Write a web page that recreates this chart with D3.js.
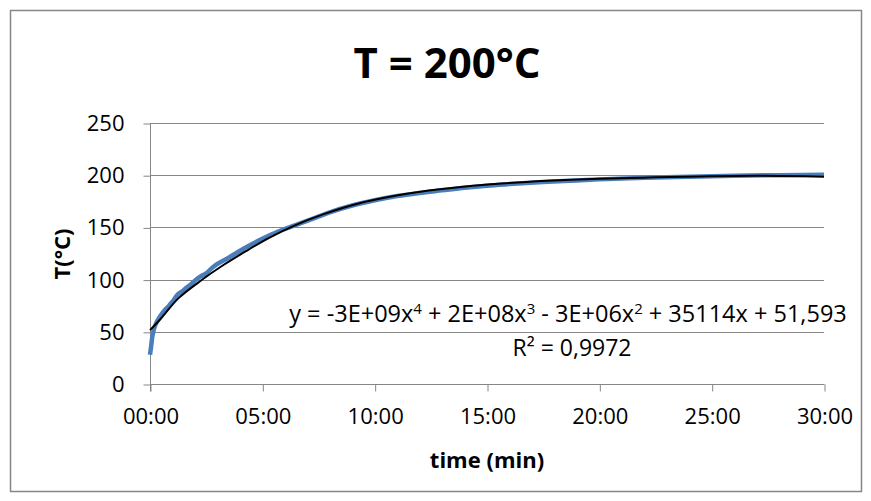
<!DOCTYPE html>
<html><head><meta charset="utf-8">
<script src="https://cdn.jsdelivr.net/npm/d3@7"></script>
<style>body{margin:0;background:#fff} text{font-family:"Open Sans",sans-serif;fill:#000}</style>
</head><body>
<svg id="c" width="871" height="501"></svg>
<script>
// Measured temperature (time in minutes, °C)
const timeMin = [0,0.05,0.10,0.17,0.25,0.40,0.55,0.67,0.85,1.00,1.25,1.45,1.6,1.8,2.0,2.25,2.5,2.75,3.0,3.5,4.2,5.0,5.7,6.45,7.2,8.0,9.0,10.0,11.0,12.0,13.0,14.0,15.0,16.0,17.5,19.0,20.0,22.0,24.5,26.0,28.0,30.0];
const tempMeasured = [28,36,45,52,57,63,68,71,75,79,86,89,92,95,99,103,106,111,115,121,130,139,146,152,158,164.5,171,176,180,183,185.5,188,190,191.5,193.5,195,196,197.5,198.8,199.5,200,200.5];
// Polynomial trendline
const trendTime = [0,0.5,1.26,2.3,3.2,4.23,5.3,6.45,7.7,9.2,11.1,12.9,16.0,20.0,24.5,27.0,30.0];
const trendTemp = [51.6,63,82,99.6,113,126.7,140,152,162.5,172.5,181,186.5,192.5,196.5,198.8,199.4,198.6];
const xTicks = [0,5,10,15,20,25,30];
const xTickLabels = ["00:00","05:00","10:00","15:00","20:00","25:00","30:00"];
const yTicks = [0,50,100,150,200,250];
const title = "T = 200°C";
const xTitle = "time (min)";
const yTitle = "T(°C)";

const svg = d3.select("#c");
const grid = "#868686";
svg.append("rect").attr("x",10.5).attr("y",10.5).attr("width",851).attr("height",481)
  .attr("fill","#fff").attr("stroke",grid).attr("stroke-width",1.5);

const x = d3.scaleLinear().domain([0,30]).range([150,824]);
const y = d3.scaleLinear().domain([0,250]).range([384,123]);

// gridlines
svg.append("g").selectAll("line").data(yTicks).join("line")
  .attr("x1",x(0)).attr("x2",x(30)).attr("y1",d=>Math.round(y(d))+0.5).attr("y2",d=>Math.round(y(d))+0.5)
  .attr("stroke",grid).attr("stroke-width",1);

const yAxis = svg.append("g").attr("transform",`translate(${x(0)+0.5},0.5)`)
  .call(d3.axisLeft(y).tickValues(yTicks).tickSize(7).tickPadding(19).tickFormat(d3.format("d")));
const xAxis = svg.append("g").attr("transform",`translate(0.5,${Math.round(y(0))+0.5})`)
  .call(d3.axisBottom(x).tickValues(xTicks).tickSize(7).tickPadding(17).tickFormat((d,i)=>xTickLabels[i]));
[yAxis,xAxis].forEach(a=>{
  a.select(".domain").attr("stroke",grid);
  a.selectAll(".tick line").attr("stroke",grid);
  a.selectAll("text").style("font-size","22px").attr("fill","#000");
});
yAxis.select(".domain").attr("d",`M0,${y(250)}V${y(0)+7}`);
xAxis.select(".domain").attr("d",`M${x(0)},0H${x(30)}`);

const line = d3.line().x(d=>x(d[0])).y(d=>y(d[1])).curve(d3.curveMonotoneX);
svg.append("path").datum(d3.zip(timeMin,tempMeasured)).attr("d",line)
  .attr("fill","none").attr("stroke","#4A7EBB").attr("stroke-width",4.5);
svg.append("path").datum(d3.zip(trendTime,trendTemp)).attr("d",line.curve(d3.curveCatmullRom))
  .attr("fill","none").attr("stroke","#000").attr("stroke-width",2);

// titles
svg.append("text").attr("x",447).attr("y",78).attr("text-anchor","middle")
  .style("font-size","42px").style("font-weight","bold").text(title);
svg.append("text").attr("x",487).attr("y",468).attr("text-anchor","middle")
  .style("font-size","22px").style("font-weight","bold").text(xTitle);
svg.append("text").attr("transform","translate(70,254) rotate(-90)").attr("text-anchor","middle")
  .style("font-size","22px").style("font-weight","bold").text(yTitle);

// trendline label
const eq = svg.append("text").attr("x",568).attr("y",322).attr("text-anchor","middle").style("font-size","23.5px");
const parts = [["y = -3E+09x",""],["4","sup"],[" + 2E+08x",""],["3","sup"],[" - 3E+06x",""],["2","sup"],[" + 35114x + 51,593",""]];
parts.forEach((p,i)=>{
  const t = eq.append("tspan").text(p[0]);
  if(p[1]) t.style("font-size","15px").attr("dy",-8);
  else if(i>0) t.attr("dy",8);
});
svg.append("text").attr("x",572).attr("y",356).attr("text-anchor","middle").style("font-size","23px")
  .text("R² = 0,9972");
</script>
</body></html>
